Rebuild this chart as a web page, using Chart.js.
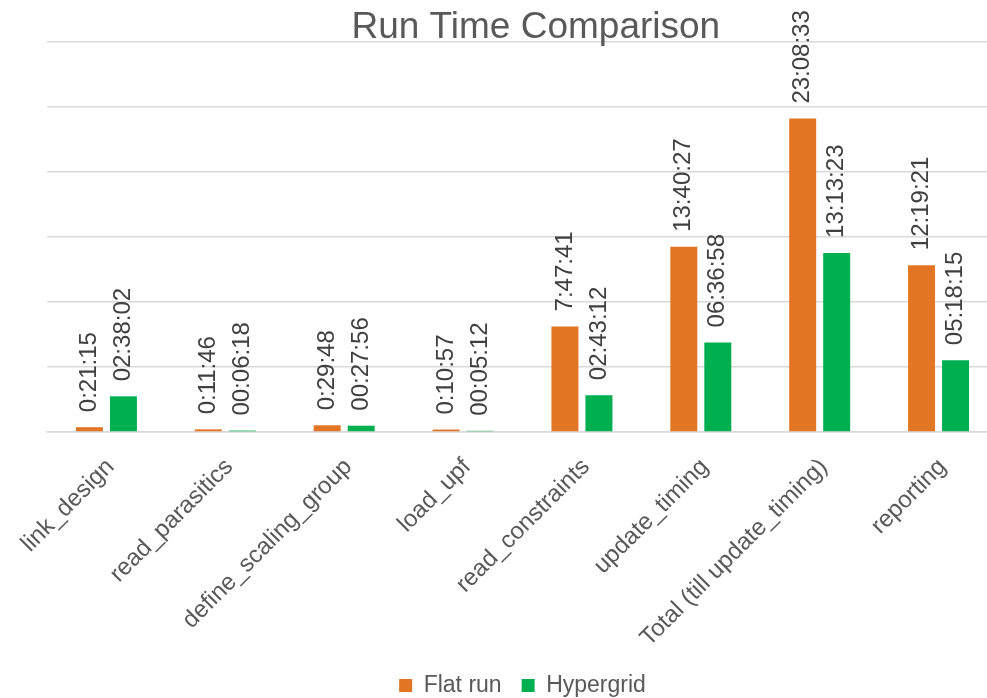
<!DOCTYPE html>
<html>
<head>
<meta charset="utf-8">
<title>Run Time Comparison</title>
<script src="https://cdn.jsdelivr.net/npm/chart.js@4.4.1/dist/chart.umd.min.js"></script>
<style>
  html, body { margin: 0; padding: 0; background: #ffffff; overflow: hidden; }
  /* the plot runs a little past the right edge of the window */
  #wrap { width: 998px; height: 698px; position: relative; }
</style>
</head>
<body>
<div id="wrap"><canvas id="chart"></canvas></div>
<script>
// Stage names on the category axis
const categories = [
  'link_design', 'read_parasitics', 'define_scaling_group', 'load_upf',
  'read_constraints', 'update_timing', 'Total (till update_timing)', 'reporting'
];
// Measured run times (h:mm:ss) per stage
const flatRunTimes = ['0:21:15', '0:11:46', '0:29:48', '0:10:57', '7:47:41', '13:40:27', '23:08:33', '12:19:21'];
const hypergridTimes = ['02:38:02', '00:06:18', '00:27:56', '00:05:12', '02:43:12', '06:36:58', '13:13:23', '05:18:15'];
const seriesNames = ['Flat run', 'Hypergrid'];
const seriesColors = ['#E37624', '#00B050'];
// Value axis is in days (time-of-day serials), gridlines every 0.2 day
const axisMaxDays = 1.2;
const axisStepDays = 0.2;

const FONT = '"Liberation Sans", Arial, Helvetica, sans-serif';

function toDays(hms) {
  const [h, m, s] = hms.split(':').map(Number);
  return (h * 3600 + m * 60 + s) / 86400;
}

// Rotated duration text above every bar
const durationLabels = {
  id: 'durationLabels',
  afterDatasetsDraw(chart) {
    const ctx = chart.ctx;
    chart.data.datasets.forEach((ds, i) => {
      const meta = chart.getDatasetMeta(i);
      if (meta.hidden) return;
      meta.data.forEach((bar, j) => {
        ctx.save();
        ctx.translate(bar.x, bar.y - 15);
        ctx.rotate(-Math.PI / 2);
        ctx.font = '24px ' + FONT;
        ctx.fillStyle = '#404040';
        ctx.textAlign = 'left';
        ctx.textBaseline = 'middle';
        ctx.fillText(ds.timeText[j], 0, 0);
        ctx.restore();
      });
    });
  }
};

// Heading drawn over the top of the plot
const heading = {
  id: 'heading',
  afterDraw(chart, args, opts) {
    const { ctx, chartArea } = chart;
    ctx.save();
    ctx.font = opts.size + 'px ' + FONT;
    ctx.fillStyle = opts.color;
    ctx.textAlign = 'center';
    ctx.textBaseline = 'alphabetic';
    ctx.fillText(opts.text, chartArea.left + chartArea.width * opts.anchor, chartArea.top - opts.lift);
    ctx.restore();
  }
};

new Chart(document.getElementById('chart'), {
  type: 'bar',
  data: {
    labels: categories,
    datasets: [
      {
        label: seriesNames[0],
        data: flatRunTimes.map(toDays),
        timeText: flatRunTimes,
        backgroundColor: seriesColors[0],
        barPercentage: 0.794,
        categoryPercentage: 0.572
      },
      {
        label: seriesNames[1],
        data: hypergridTimes.map(toDays),
        timeText: hypergridTimes,
        backgroundColor: seriesColors[1],
        barPercentage: 0.794,
        categoryPercentage: 0.572
      }
    ]
  },
  options: {
    responsive: true,
    maintainAspectRatio: false,
    animation: false,
    layout: { padding: { left: 47, top: 42, right: 0, bottom: -9 } },
    scales: {
      x: {
        grid: { display: false, drawTicks: false },
        border: { display: true, color: '#D9D9D9', width: 1.5 },
        ticks: {
          color: '#595959',
          font: { family: FONT, size: 24 },
          minRotation: 45,
          maxRotation: 45,
          autoSkip: false,
          padding: 21,
          labelOffset: 4
        },
        afterFit(scale) {
          // keep the plot edges fixed; rotated labels may overhang them
          scale.height = 222;
          scale.paddingLeft = 0;
          scale.paddingRight = 0;
        }
      },
      y: {
        min: 0,
        max: axisMaxDays,
        ticks: { display: false, stepSize: axisStepDays },
        grid: { color: '#D9D9D9', lineWidth: 1.5, drawTicks: false },
        border: { display: false }
      }
    },
    plugins: {
      title: { display: false },
      tooltip: { enabled: false },
      legend: {
        position: 'bottom',
        labels: {
          boxWidth: 13,
          boxHeight: 13,
          padding: 20,
          color: '#595959',
          font: { family: FONT, size: 23 }
        }
      },
      heading: { text: 'Run Time Comparison', size: 37, color: '#595959', anchor: 0.514, lift: 4 }
    }
  },
  plugins: [durationLabels, heading]
});
</script>
</body>
</html>
